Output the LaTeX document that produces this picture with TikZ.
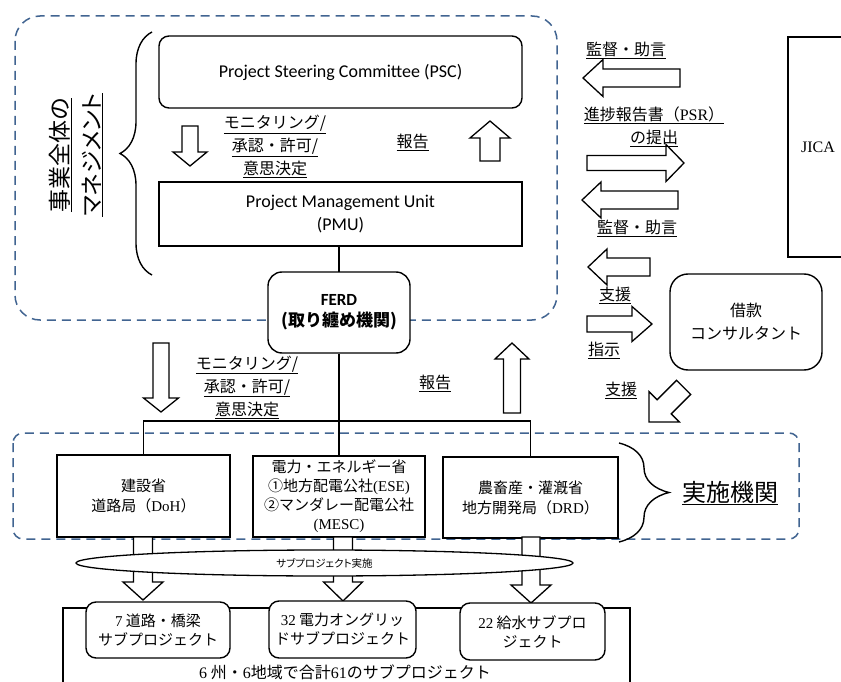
\documentclass[tikz,border=0pt]{standalone}
\usepackage{fontspec}
\setmainfont{Liberation Serif}
\newfontfamily\jp{Noto Sans CJK JP}
\newfontfamily\jpp[RawFeature=+palt]{Noto Sans CJK JP}
\newfontfamily\calib{Carlito}
\usetikzlibrary{decorations.pathreplacing,shapes.geometric}
\definecolor{dashblue}{RGB}{65,100,145}
\newcommand\lat[1]{{\rmfamily #1}}
\newcommand\uln[1]{\underline{#1}}
\newcommand\blockarr[7]{%
  \begin{scope}[shift={(#1,#2)},rotate=#3]
    \draw[barrow] (0,0) -- (-#7,#6/2) -- (-#7,#5/2) -- (-#4,#5/2) -- (-#4,-#5/2) -- (-#7,-#5/2) -- (-#7,-#6/2) -- cycle;
  \end{scope}}
\begin{document}
\begin{tikzpicture}[x=1pt,y=-1pt,
  box/.style={draw, line width=1.4pt, fill=white, inner sep=0pt, align=center},
  rbox/.style={box, rounded corners=10pt},
  lab/.style={inner sep=0pt, align=center, font=\jp\fontsize{16}{23}\selectfont},
  barrow/.style={draw, line width=1.3pt, fill=white, line join=miter},
  dashbox/.style={draw=dashblue, line width=1.5pt, dash pattern=on 9pt off 6pt},
  conn/.style={line width=1.5pt},
  bracestyle/.style={draw, line width=1.4pt, decorate}]
\useasboundingbox (0,0) rectangle (841,682);
\clip (0,0) rectangle (841,682);

% dashed groups
\draw[dashbox, rounded corners=25pt] (15,16) rectangle (557,320);
\draw[dashbox, rounded corners=10pt] (13,433) rectangle (799,539);

% braces
\draw[bracestyle, decoration={brace, amplitude=32pt, aspect=0.5}] (152,275) -- (152,32);
\draw[bracestyle, decoration={brace, amplitude=50pt, aspect=0.5}] (619,443) -- (619,542);

% vertical title
\node[rotate=90, inner sep=0pt, align=center, font=\jpp\fontsize{23}{32}\selectfont] (mgmt) at (76,155) {\uln{事業全体の}\\\uln{マネジメント}};

% connectors
\coordinate (bus) at (339,421);

% boxes
\node[rbox, minimum width=363, minimum height=72, font=\calib\fontsize{18}{22}\selectfont] (psc) at (340.5,72) {Project Steering Committee (PSC)};
\node[box, minimum width=363, minimum height=64, font=\calib\fontsize{18}{23}\selectfont] (pmu) at (340.5,214) {Project Management Unit\\(PMU)};
\draw[conn] (pmu.south -| 339,0) -- (339,272);
\node[box, rounded corners=14pt, minimum width=142, minimum height=81, font=\calib\bfseries\fontsize{17}{21}\selectfont] (ferd) at (339,312.5) {FERD\\{\jp\bfseries (取り纏め機関)}};

\node[box, minimum width=173, minimum height=82, font=\jp\fontsize{15}{20}\selectfont] (doh) at (143.5,496) {建設省\\道路局（\lat{DoH}）};
\node[box, minimum width=172, minimum height=81, font=\jp\fontsize{15}{19}\selectfont] (mid) at (339,496.5) {電力・エネルギー省\\①地方配電公社\lat{(ESE)}\\②マンダレー配電公社\\\lat{(MESC)}};
\node[box, minimum width=175, minimum height=81, font=\jp\fontsize{15}{20}\selectfont] (drd) at (530.5,497.5) {農畜産・灌漑省\\地方開発局（\lat{DRD}）};

\draw[conn] (ferd.south) -- (mid.north);
\draw[conn] (doh.north) |- (bus) -| (drd.north);

% top-group arrows
\blockarr{190}{166}{-90}{40}{16}{34}{14}
\blockarr{490}{121}{90}{40}{20}{40}{17}
\blockarr{161}{412}{-90}{69}{16}{35}{14}
\blockarr{512}{343}{90}{70}{17}{34}{16}

% labels left
\node[lab] (l1) at (275,146.5) {\uln{モニタリング/}\\\uln{承認・許可/}\\\uln{意思決定}};
\node[lab] (l2) at (412.5,142) {\uln{報告}};
\node[lab] (l3) at (247,387) {\uln{モニタリング/}\\\uln{承認・許可/}\\\uln{意思決定}};
\node[lab] (l4) at (435,383) {\uln{報告}};

% JICA and consultant
\node[box, minimum width=60, minimum height=220, font=\rmfamily\fontsize{16}{19}\selectfont] (jica) at (818,147) {JICA};
\node[box, rounded corners=18pt, minimum width=152, minimum height=96, font=\jp\fontsize{16}{23}\selectfont] (cons) at (746,322) {借款\\コンサルタント};

% right arrows
\blockarr{583}{78}{180}{97}{18}{37}{20}
\blockarr{684}{163}{0}{97}{15}{37}{18}
\blockarr{582}{200}{180}{96}{18}{36}{19}
\blockarr{588}{267}{180}{62}{18}{36}{19}
\blockarr{652}{324}{0}{65}{16}{35}{20}
\blockarr{649}{422}{225}{49}{20}{43}{21.5}

\node[lab] (r1) at (626,50) {\uln{監督・助言}};
\node[lab] (r2) at (654,126.5) {\uln{進捗報告書（\lat{PSR}）}\\\uln{の提出}};
\node[lab] (r3) at (637,228) {\uln{監督・助言}};
\node[lab] (r4) at (615,295) {\uln{支援}};
\node[lab] (r5) at (604,350) {\uln{指示}};
\node[lab] (r6) at (621,390) {\uln{支援}};
\node[lab, font=\jp\fontsize{24}{28}\selectfont] (impl) at (730,493) {\uln{実施機関}};

% bottom container
\draw[conn] (63,690) -- (63,608) -- (630,608) -- (630,690);

% bottom arrows
\blockarr{143}{600}{-90}{63}{19}{40}{18}
\blockarr{343}{601}{-90}{64}{19}{39}{19}
\blockarr{531}{603}{-90}{66}{18}{40}{18}

\node[ellipse, draw, line width=1.3pt, fill=white, minimum width=497, minimum height=26, inner sep=0pt] (ell) at (324.5,563) {};
\node[inner sep=0pt, font=\jpp\fontsize{10.5}{12}\selectfont] (elltxt) at (ell.center) {サブプロジェクト実施};

\node[rbox, minimum width=144, minimum height=56, font=\jp\fontsize{15}{19}\selectfont] (s1) at (158,630) {\lat{7} 道路・橋梁\\サブプロジェクト};
\node[rbox, minimum width=147, minimum height=57, font=\jp\fontsize{15}{19}\selectfont] (s2) at (342.5,629.5) {\lat{32} 電力オングリッ\\ドサブプロジェクト};
\node[rbox, minimum width=145, minimum height=57, font=\jp\fontsize{15}{19}\selectfont] (s3) at (532.5,631.5) {\lat{22} 給水サブプロ\\ジェクト};

\node[inner sep=0pt, font=\jp\fontsize{16}{19}\selectfont] (total) at (345,672) {\lat{6} 州・\lat{6}地域で合計\lat{61}のサブプロジェクト};
\end{tikzpicture}
\end{document}
